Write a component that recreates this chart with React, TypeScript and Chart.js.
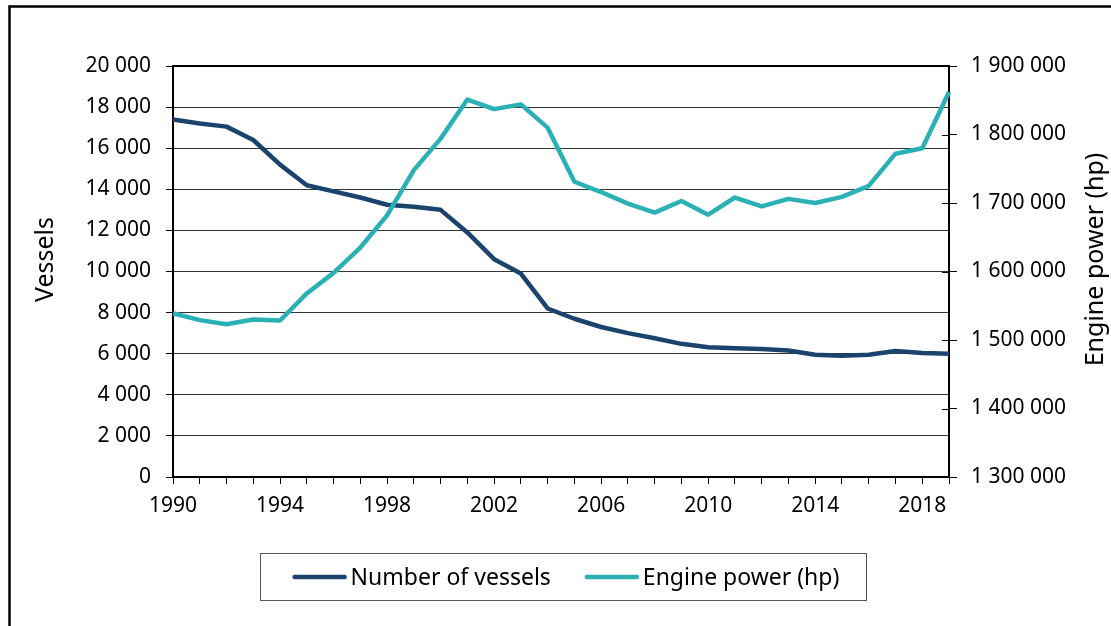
import React, { useEffect, useRef } from 'react';
import { Chart, registerables } from 'chart.js';

Chart.register(...registerables);

const YEARS = [
  1990, 1991, 1992, 1993, 1994, 1995, 1996, 1997, 1998, 1999,
  2000, 2001, 2002, 2003, 2004, 2005, 2006, 2007, 2008, 2009,
  2010, 2011, 2012, 2013, 2014, 2015, 2016, 2017, 2018, 2019,
];

const VESSELS = [
  17400, 17200, 17050, 16400, 15200, 14200, 13900, 13600, 13250, 13150,
  13000, 11900, 10600, 9900, 8200, 7700, 7300, 7000, 6750, 6480,
  6310, 6260, 6230, 6160, 5950, 5900, 5950, 6130, 6030, 6000,
];

const ENGINE_POWER = [
  1539000, 1529000, 1523000, 1530000, 1528500, 1568000, 1598000, 1635000, 1682000, 1748000,
  1794000, 1851000, 1837000, 1844000, 1810000, 1731000, 1716000, 1699000, 1686000, 1703000,
  1683000, 1708000, 1695000, 1706000, 1700000, 1709000, 1725000, 1772000, 1780000, 1862000,
];

const SERIES_NAMES = ['Number of vessels', 'Engine power (hp)'];
const LEFT_TITLE = 'Vessels';
const RIGHT_TITLE = 'Engine power (hp)';

const LEFT_MIN = 0;
const LEFT_MAX = 20000;
const LEFT_STEP = 2000;
const RIGHT_MIN = 1300000;
const RIGHT_MAX = 1900000;
const RIGHT_STEP = 100000;
const YEAR_LABEL_EVERY = 4;

const NAVY = '#1a436e';
const TEAL = '#2bb0b5';
const FONT = '"Noto Sans", "Open Sans", sans-serif';

const fmt = (v: number) => String(Math.round(v)).replace(/\B(?=(\d{3})+(?!\d))/g, ' ');

const decorPlugin = {
  id: 'decor',
  beforeDraw(chart: any) {
    const ctx = chart.ctx;
    ctx.save();
    ctx.strokeStyle = '#000';
    ctx.lineWidth = 2.5;
    ctx.strokeRect(9.5, 6.5, 1300, 800);
    ctx.restore();
  },
  beforeDatasetsDraw(chart: any) {
    const { ctx, chartArea } = chart;
    ctx.save();
    ctx.strokeStyle = '#000';
    ctx.lineWidth = 2;
    ctx.strokeRect(chartArea.left, chartArea.top, chartArea.right - chartArea.left, chartArea.bottom - chartArea.top);
    // inner part of right-axis tick marks
    const s = chart.scales.y1;
    ctx.lineWidth = 1;
    s.ticks.forEach((t: any) => {
      const py = Math.round(s.getPixelForValue(t.value)) + 0.5;
      ctx.beginPath();
      ctx.moveTo(chartArea.right - 7, py);
      ctx.lineTo(chartArea.right, py);
      ctx.stroke();
    });
    ctx.restore();
  },
  afterDraw(chart: any) {
    const { ctx, chartArea } = chart;
    ctx.save();
    // axis titles
    ctx.fillStyle = '#000';
    ctx.font = `25px ${FONT}`;
    ctx.textAlign = 'center';
    ctx.textBaseline = 'middle';
    const cy = (chartArea.top + chartArea.bottom) / 2 - 12;
    ctx.save();
    ctx.translate(46, cy);
    ctx.rotate(-Math.PI / 2);
    ctx.fillText(LEFT_TITLE, 0, 0);
    ctx.restore();
    ctx.save();
    ctx.translate(1096, cy);
    ctx.rotate(-Math.PI / 2);
    ctx.fillText(RIGHT_TITLE, 0, 0);
    ctx.restore();

    // legend
    const boxW = 606;
    const boxH = 47;
    const cx = (chartArea.left + chartArea.right) / 2 + 2;
    const bx = Math.round(cx - boxW / 2) + 0.5;
    const by = chartArea.bottom + 76.5;
    ctx.strokeStyle = '#555';
    ctx.lineWidth = 1;
    ctx.strokeRect(bx, by, boxW, boxH);
    ctx.font = `23px ${FONT}`;
    ctx.textAlign = 'left';
    const lineLen = 54;
    const gap = 4;
    const itemGap = 34;
    const ds = chart.data.datasets;
    const widths = ds.map((d: any) => ctx.measureText(d.label).width);
    let total = 0;
    widths.forEach((w: number, i: number) => {
      total += lineLen + gap + w + (i > 0 ? itemGap : 0);
    });
    let x = cx + 3 - total / 2;
    const ly = by + boxH / 2;
    ds.forEach((d: any, i: number) => {
      ctx.strokeStyle = d.borderColor;
      ctx.lineWidth = 4.5;
      ctx.lineCap = 'round';
      ctx.beginPath();
      ctx.moveTo(x + 2, ly);
      ctx.lineTo(x + lineLen - 2, ly);
      ctx.stroke();
      ctx.fillStyle = '#000';
      ctx.fillText(d.label, x + lineLen + gap, ly + 1);
      x += lineLen + gap + widths[i] + itemGap;
    });
    ctx.restore();
  },
};

export default function App() {
  const ref = useRef<HTMLCanvasElement>(null);

  useEffect(() => {
    if (!ref.current) return;
    const tickFont = { family: FONT, size: 21 };
    const chart = new Chart(ref.current, {
      type: 'line',
      data: {
        labels: YEARS.map(String),
        datasets: [
          {
            label: SERIES_NAMES[0],
            data: VESSELS,
            yAxisID: 'y',
            borderColor: NAVY,
            backgroundColor: NAVY,
            borderWidth: 4.5,
            pointRadius: 0,
            tension: 0,
            borderJoinStyle: 'round',
            order: 1,
          },
          {
            label: SERIES_NAMES[1],
            data: ENGINE_POWER,
            yAxisID: 'y1',
            borderColor: TEAL,
            backgroundColor: TEAL,
            borderWidth: 4.5,
            pointRadius: 0,
            tension: 0,
            borderJoinStyle: 'round',
            order: 0,
          },
        ],
      },
      options: {
        responsive: false,
        animation: false,
        devicePixelRatio: 1,
        layout: { padding: { left: 0, top: 66, right: 0, bottom: 99 } },
        plugins: {
          legend: { display: false },
          tooltip: { enabled: false },
        },
        scales: {
          x: {
            type: 'category',
            offset: false,
            border: { display: false },
            grid: { drawOnChartArea: false, drawTicks: true, tickLength: 7, tickColor: '#000', tickWidth: 1 },
            ticks: {
              autoSkip: false,
              maxRotation: 0,
              minRotation: 0,
              padding: 9,
              color: '#000',
              font: tickFont,
              callback: (_v: any, i: number) => (i % YEAR_LABEL_EVERY === 0 ? String(YEARS[i]) : ''),
            },
            afterFit: (s: any) => { s.height = 50; },
          },
          y: {
            position: 'left',
            min: LEFT_MIN,
            max: LEFT_MAX,
            border: { display: false },
            grid: { color: '#333', lineWidth: 1, tickLength: 7, tickColor: '#000' },
            ticks: { stepSize: LEFT_STEP, padding: 15, color: '#000', font: tickFont, callback: (v: any) => fmt(Number(v)) },
            afterFit: (s: any) => { s.width = 173; },
          },
          y1: {
            position: 'right',
            min: RIGHT_MIN,
            max: RIGHT_MAX,
            border: { display: false },
            grid: { drawOnChartArea: false, tickLength: 8, tickColor: '#000' },
            ticks: { stepSize: RIGHT_STEP, padding: 14, color: '#000', font: tickFont, callback: (v: any) => fmt(Number(v)) },
            afterFit: (s: any) => { s.width = 162; },
          },
        },
      } as any,
      plugins: [decorPlugin],
    });
    return () => chart.destroy();
  }, []);

  return (
    <div style={{ position: 'fixed', left: 0, top: 0, width: 1111, height: 626, overflow: 'hidden', background: '#fff' }}>
      <canvas ref={ref} width={1111} height={626} style={{ display: 'block' }} />
    </div>
  );
}
